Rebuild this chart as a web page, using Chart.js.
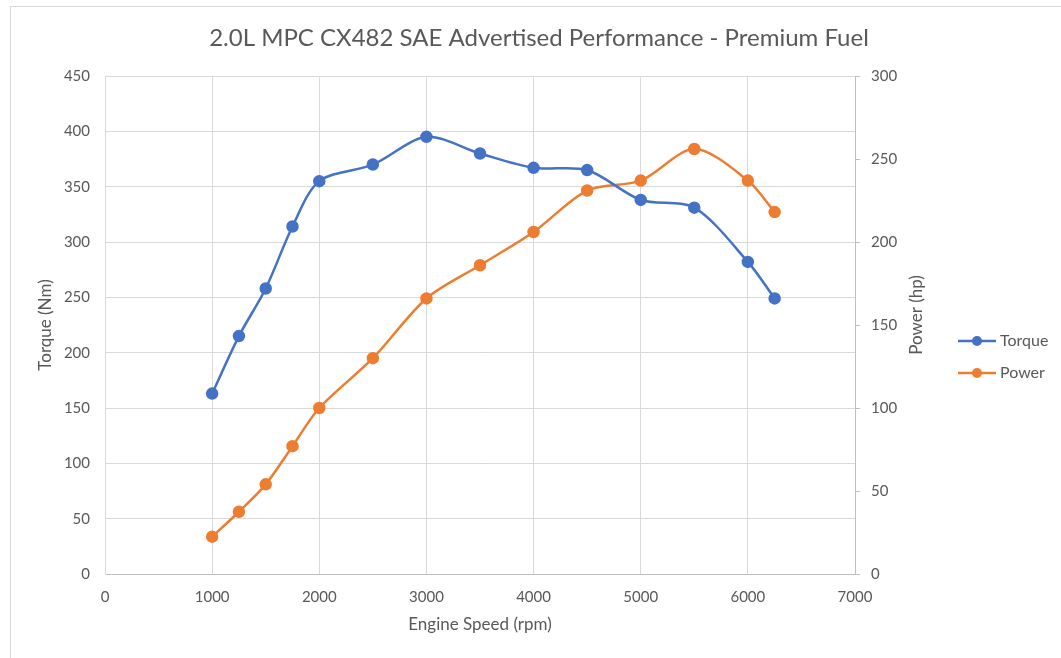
<!DOCTYPE html>
<html><head><meta charset="utf-8">
<script src="https://cdn.jsdelivr.net/npm/chart.js@4/dist/chart.umd.min.js"></script>
<style>
html,body{margin:0;padding:0;background:#fff;}
#wrap{position:relative;width:1061px;height:658px;overflow:hidden;}
#frame{position:absolute;left:10px;top:6px;width:1200px;height:800px;border:1px solid #d9d9d9;box-sizing:border-box;pointer-events:none;}
canvas{position:absolute;left:0;top:0;}
</style></head><body>
<div id="wrap"><canvas id="c" width="1061" height="658"></canvas><div id="frame"></div></div>
<script>
const chartTitle = "2.0L MPC CX482 SAE Advertised Performance - Premium Fuel";
const xTitle = "Engine Speed (rpm)";
const yTitle = "Torque (Nm)";
const y1Title = "Power (hp)";
const rpm = [1000,1250,1500,1750,2000,2500,3000,3500,4000,4500,5000,5500,6000,6250];
const torque = [163,215,258,314,355,370,395,380,367,365,338,331,282,249];
const power = [22.5,37.5,54,77,100,130,166,186,206,231,237,256,237,218];
const seriesNames = ["Torque","Power"];
const seriesColors = ["#4472C4","#ED7D31"];

const FONT = "Lato, 'Open Sans', sans-serif";
const TXT = "#595959";

const textPlugin = {
  id: 'excelText',
  afterDraw(chart) {
    const ctx = chart.ctx;
    ctx.save();
    ctx.font = "24px " + FONT;
    ctx.fillStyle = TXT;
    ctx.textAlign = "center";
    ctx.textBaseline = "middle";
    ctx.fillText(chartTitle, 539, 38);
    // right axis title, reading bottom-to-top
    ctx.save();
    ctx.translate(917, 315);
    ctx.rotate(-Math.PI / 2);
    ctx.font = "17px " + FONT;
    ctx.fillText(y1Title, 0, 0);
    ctx.restore();
    ctx.restore();
  }
};
const legendPlugin = {
  id: 'excelLegend',
  afterDraw(chart) {
    const ctx = chart.ctx;
    ctx.save();
    chart.data.datasets.forEach((ds, i) => {
      const y = 341 + i * 32;
      ctx.strokeStyle = ds.borderColor;
      ctx.lineWidth = 2.5;
      ctx.beginPath(); ctx.moveTo(958, y); ctx.lineTo(996, y); ctx.stroke();
      ctx.fillStyle = ds.backgroundColor;
      ctx.beginPath(); ctx.arc(977, y, 5, 0, Math.PI * 2); ctx.fill();
      ctx.fillStyle = TXT;
      ctx.font = "16px " + FONT;
      ctx.textAlign = "left";
      ctx.textBaseline = "middle";
      ctx.fillText(ds.label, 1000, y);
    });
    ctx.restore();
  }
};

const mk = (vals) => rpm.map((x, i) => ({x, y: vals[i]}));
const plain = (v) => String(v);

new Chart(document.getElementById('c'), {
  type: 'line',
  data: {
    datasets: [
      {label: seriesNames[0], data: mk(torque), yAxisID: 'y', borderColor: seriesColors[0], backgroundColor: seriesColors[0],
       borderWidth: 2.5, pointRadius: 5, pointHoverRadius: 5, tension: 0.3},
      {label: seriesNames[1], data: mk(power), yAxisID: 'y1', borderColor: seriesColors[1], backgroundColor: seriesColors[1],
       borderWidth: 2.5, pointRadius: 5, pointHoverRadius: 5, tension: 0.3}
    ]
  },
  options: {
    responsive: false, animation: false, devicePixelRatio: 1,
    layout: {padding: {left: 0, right: 0, top: 76, bottom: 0}},
    plugins: {legend: {display: false}, title: {display: false}, tooltip: {enabled: false}},
    scales: {
      x: {
        type: 'linear', min: 0, max: 7000,
        ticks: {stepSize: 1000, color: TXT, font: {family: FONT, size: 15}, padding: 14, callback: plain},
        grid: {color: '#d9d9d9', lineWidth: 1, drawTicks: false},
        border: {color: '#bfbfbf', width: 1},
        title: {display: true, text: xTitle, color: TXT, font: {family: FONT, size: 17}, padding: {top: 0, bottom: 23}},
        afterFit(s) { s.height = 84; }
      },
      y: {
        position: 'left', min: 0, max: 450,
        ticks: {stepSize: 50, color: TXT, font: {family: FONT, size: 15}, padding: 15, callback: plain},
        grid: {color: '#d9d9d9', lineWidth: 1, drawTicks: false},
        border: {color: '#d9d9d9', width: 1},
        title: {display: true, text: yTitle, color: TXT, font: {family: FONT, size: 17}, padding: {top: 35, bottom: 0}},
        afterFit(s) { s.width = 105; }
      },
      y1: {
        position: 'right', min: 0, max: 300,
        ticks: {stepSize: 50, color: TXT, font: {family: FONT, size: 15}, padding: 11, callback: plain},
        grid: {drawOnChartArea: false, color: '#bfbfbf', tickLength: 5, drawTicks: true},
        border: {color: '#bfbfbf', width: 1},
        title: {display: false},
        afterFit(s) { s.width = 206; }
      }
    }
  },
  plugins: [textPlugin, legendPlugin]
});
</script>
</body></html>
